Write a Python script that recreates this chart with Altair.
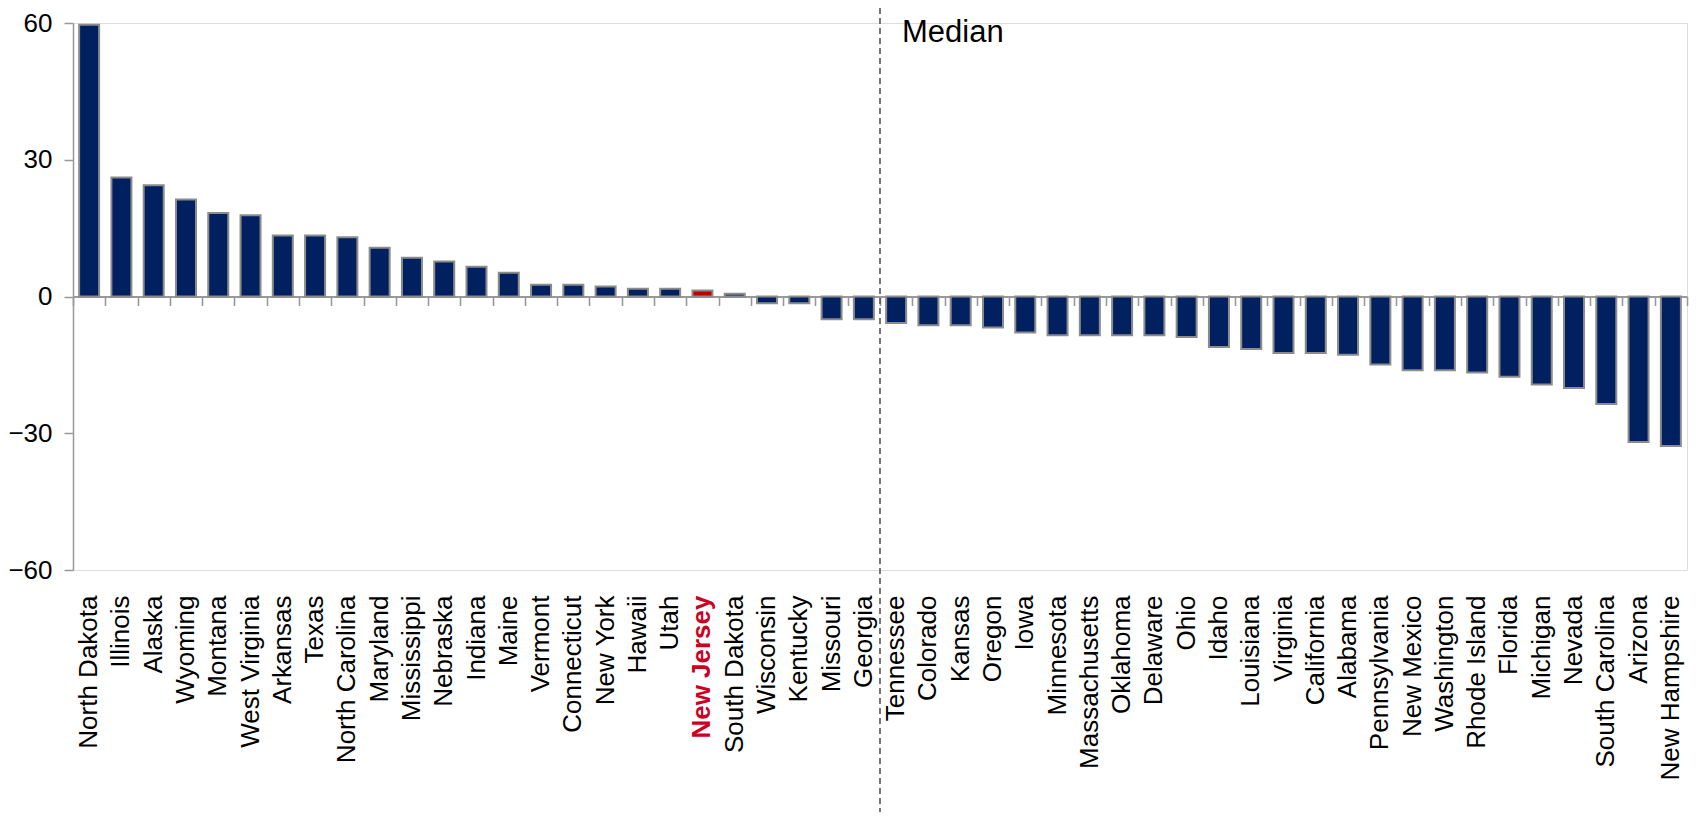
import altair as alt
import pandas as pd

states = ["North Dakota", "Illinois", "Alaska", "Wyoming", "Montana", "West Virginia",
          "Arkansas", "Texas", "North Carolina", "Maryland", "Mississippi", "Nebraska",
          "Indiana", "Maine", "Vermont", "Connecticut", "New York", "Hawaii", "Utah",
          "New Jersey", "South Dakota", "Wisconsin", "Kentucky", "Missouri", "Georgia",
          "Tennessee", "Colorado", "Kansas", "Oregon", "Iowa", "Minnesota", "Massachusetts",
          "Oklahoma", "Delaware", "Ohio", "Idaho", "Louisiana", "Virginia", "California",
          "Alabama", "Pennsylvania", "New Mexico", "Washington", "Rhode Island", "Florida",
          "Michigan", "Nevada", "South Carolina", "Arizona", "New Hampshire"]
values = [59.6, 26.1, 24.4, 21.3, 18.3, 17.8, 13.4, 13.4, 13.0, 10.7, 8.5, 7.7,
          6.5, 5.2, 2.6, 2.6, 2.2, 1.7, 1.7, 1.3, 0.6, -1.5, -1.5, -5.0, -5.0,
          -5.8, -6.3, -6.3, -6.8, -7.9, -8.5, -8.5, -8.5, -8.5, -8.9, -11.1, -11.5,
          -12.4, -12.4, -12.8, -14.9, -16.2, -16.2, -16.7, -17.6, -19.3, -20.1,
          -23.6, -31.9, -32.8]
highlight_state = "New Jersey"
median_after_state = "Tennessee"
y_ticks = [-60, -30, 0, 30, 60]

W = 1614
H = 547

df = pd.DataFrame({"state": states, "value": values})
df["hl"] = ["yes" if s == highlight_state else "no" for s in states]
med = pd.DataFrame({"state": [median_after_state], "label": ["Median"]})

xscale = alt.Scale(paddingInner=0, paddingOuter=0)
FONT = "Liberation Sans"

label_axis = alt.Axis(
    orient="bottom", title=None, domain=False, ticks=False, tickSize=0,
    labelAngle=270, labelPadding=25, labelFontSize=26, labelFont=FONT,
    labelLimit=400, labelOverlap=False,
    labelColor={"condition": {"test": f"datum.value === '{highlight_state}'", "value": "#CC0022"}, "value": "black"},
    labelFontWeight={"condition": {"test": f"datum.value === '{highlight_state}'", "value": "bold"}, "value": "normal"},
)

zero_axis = alt.Axis(
    orient="bottom", title=None, labels=False, offset=-H / 2,
    domain=True, domainColor="#999999", domainWidth=1.8,
    ticks=True, tickBand="extent", tickSize=9, tickColor="#999999", tickWidth=1.6,
)

y_axis = alt.Axis(
    title=None, values=y_ticks, grid=False, domainColor="#999999", domainWidth=1.5,
    tickColor="#999999", tickSize=9, tickWidth=1.5, labelFontSize=26, labelFont=FONT,
    labelPadding=12, labelColor="black",
)

base = alt.Chart(df)

zero_layer = base.mark_point(opacity=0).encode(
    x=alt.X("state:N", sort=states, scale=xscale, axis=zero_axis),
)

bars = base.mark_bar(
    stroke="#8c8c8c", strokeWidth=2, width=alt.RelativeBandSize(0.62)
).encode(
    x=alt.X("state:N", sort=states, scale=xscale, axis=label_axis),
    y=alt.Y("value:Q", scale=alt.Scale(domain=[-60, 60]), axis=y_axis),
    color=alt.Color("hl:N", scale=alt.Scale(domain=["no", "yes"], range=["#002060", "#C00000"]), legend=None),
)

rule = alt.Chart(med).mark_rule(
    color="#555555", strokeWidth=1.6, strokeDash=[6, 4], clip=False
).encode(
    x=alt.X("state:N", sort=states, bandPosition=0, axis=None),
    y=alt.value(-15),
    y2=alt.value(H + 242),
)

text = alt.Chart(med).mark_text(
    align="left", baseline="alphabetic", fontSize=31, font=FONT, color="black", dx=22, dy=19
).encode(
    x=alt.X("state:N", sort=states, bandPosition=0, axis=None),
    y=alt.datum(60),
    text="label:N",
)

chart = alt.layer(zero_layer, bars, rule, text).resolve_axis(x="independent").properties(
    width=W, height=H,
    padding={"left": 65, "top": 15, "right": 3, "bottom": 242},
    autosize=alt.AutoSizeParams(type="none"),
).configure_view(stroke=None).configure(font=FONT)

chart.save("out.html", embed_options={"renderer": "svg", "actions": False})
